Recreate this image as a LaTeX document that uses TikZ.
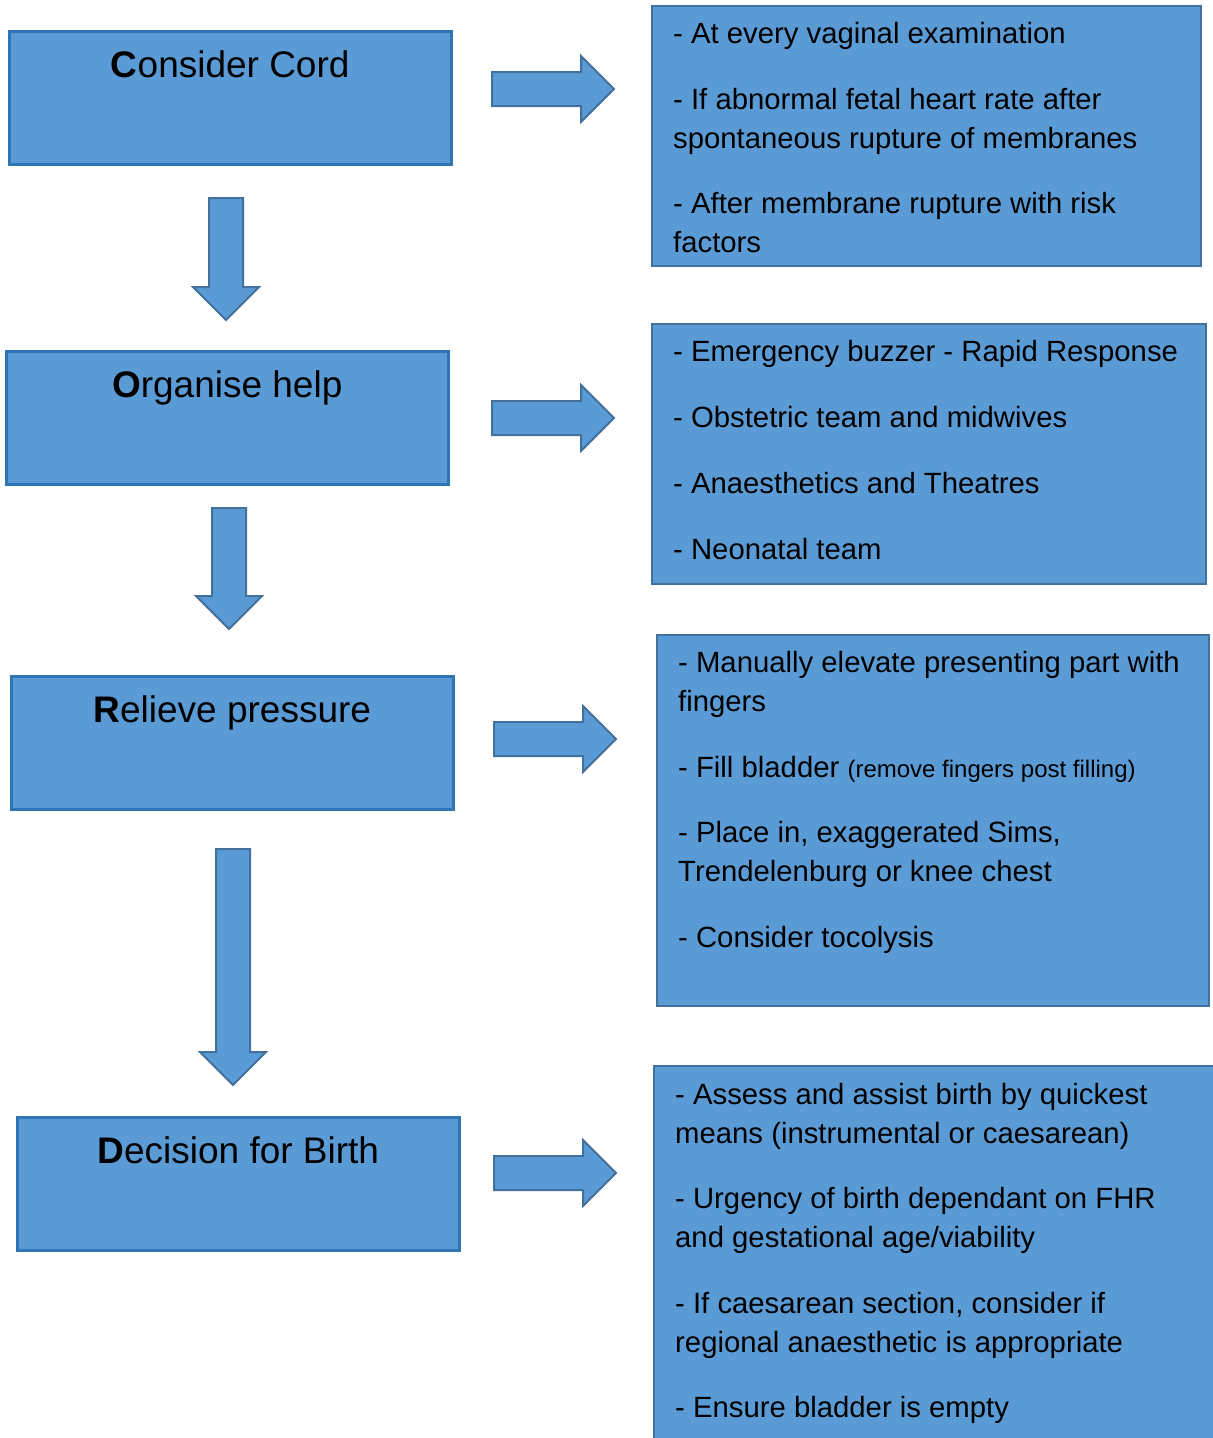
\documentclass[tikz,border=0pt]{standalone}
\usepackage{fontspec}
\setmainfont{Liberation Sans}
\usetikzlibrary{positioning, shapes.arrows}
\definecolor{boxfill}{HTML}{5B9BD5}
\definecolor{boxline}{HTML}{2E75B6}
\definecolor{arrline}{HTML}{41719C}

\begin{document}
\begin{tikzpicture}[
  x=1pt, y=-1pt,
  lbox/.style={draw=boxline, line width=2.5pt, fill=boxfill, inner sep=0pt,
               minimum width=442pt, minimum height=133pt, anchor=north west},
  rbox/.style={draw=arrline, line width=2pt, fill=boxfill, inner sep=0pt,
               anchor=north west},
  ltitle/.style={inner sep=0pt, anchor=base, font=\fontsize{37}{44}\selectfont},
  rtext/.style={inner sep=0pt, anchor=north west, align=left,
                font=\fontsize{29.3}{39}\selectfont,
                execute at begin node={\rule{0pt}{22pt}}},
  blk/.style={single arrow, draw=arrline, line width=2pt, fill=boxfill,
              inner sep=0pt, text height=16pt, text depth=16pt,
              minimum width=64pt, single arrow head extend=16pt,
              single arrow head indent=0pt, anchor=tail},
  rarr/.style={blk, minimum height=122pt},
  darr/.style={blk, rotate=-90}
]
\clip (0,0) rectangle (1213,1438);
\fill[white] (0,0) rectangle (1213,1438);

% steps on the left
\node[lbox] (cord) at (8,30) {};
\node[lbox] (help) at (5,350) {};
\node[lbox] (press) at (10,675) {};
\node[lbox] (birth) at (16,1116) {};
\node[ltitle] (cordt) at ([yshift=-47pt]cord.north) {\textbf{C}onsider Cord};
\node[ltitle] (helpt) at ([yshift=-47pt]help.north) {\textbf{O}rganise help};
\node[ltitle] (presst) at ([yshift=-47pt]press.north) {\textbf{R}elieve pressure};
\node[ltitle] (birtht) at ([yshift=-47pt]birth.north) {\textbf{D}ecision for Birth};

% down arrows between steps
\node[darr, minimum height=122pt] (d1) at (226,197) {};
\node[darr, minimum height=121pt] (d2) at (229,507) {};
\node[darr, minimum height=236pt] (d3) at (233,848) {};

% arrows to the details
\foreach \n/\x/\y in {a1/491/89, a2/491/418, a3/493/739, a4/493/1173}
  \node[rarr] (\n) at (\x,\y) {};

% details on the right
\node[rbox, minimum width=549pt, minimum height=260pt] (cordd) at (651,5) {};
\node[rtext] (corddt) at (673,22.5) {%
  - At every vaginal examination\\[26.5pt]
  - If abnormal fetal heart rate after\\
  spontaneous rupture of membranes\\[26.5pt]
  - After membrane rupture with risk\\
  factors};

\node[rbox, minimum width=554pt, minimum height=260pt] (helpd) at (651,323) {};
\node[rtext] (helpdt) at (673,340.5) {%
  - Emergency buzzer - Rapid Response\\[27pt]
  - Obstetric team and midwives\\[27pt]
  - Anaesthetics and Theatres\\[27pt]
  - Neonatal team};

\node[rbox, minimum width=552pt, minimum height=371pt] (pressd) at (656,634) {};
\node[rtext] (pressdt) at (678,651.5) {%
  - Manually elevate presenting part with\\
  fingers\\[26.5pt]
  - Fill bladder {\fontsize{24}{39}\selectfont (remove fingers post filling)}\\[26.5pt]
  - Place in, exaggerated Sims,\\
  Trendelenburg or knee chest\\[26.5pt]
  - Consider tocolysis};

\node[rbox, minimum width=600pt, minimum height=400pt] (birthd) at (653,1065) {};
\node[rtext] (birthdt) at (675,1083) {%
  - Assess and assist birth by quickest\\
  means (instrumental or caesarean)\\[26.5pt]
  - Urgency of birth dependant on FHR\\
  and gestational age/viability\\[26.5pt]
  - If caesarean section, consider if\\
  regional anaesthetic is appropriate\\[26.5pt]
  - Ensure bladder is empty};
\end{tikzpicture}
\end{document}
